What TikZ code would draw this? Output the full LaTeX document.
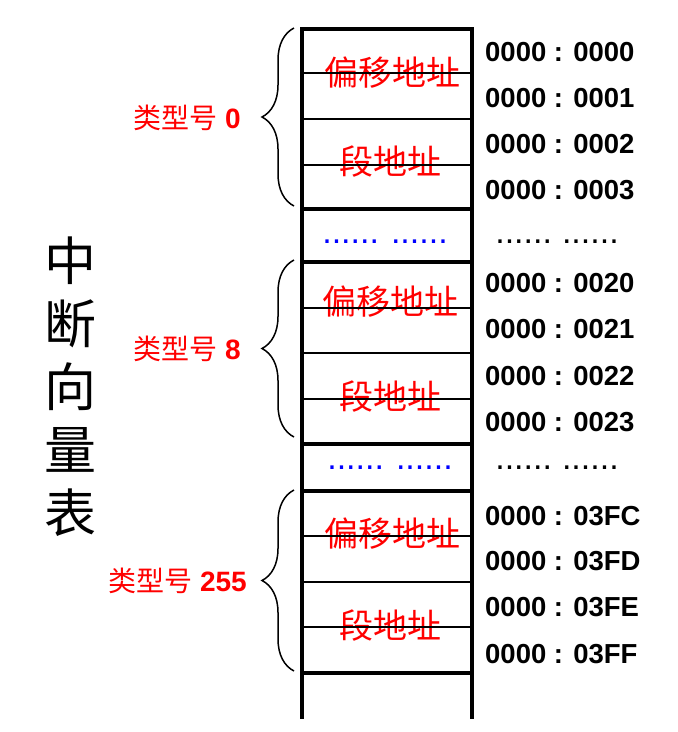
\documentclass[tikz,border=0pt]{standalone}
\usepackage{fontspec}
\setmainfont{Liberation Sans}
\newfontfamily\cjk{Noto Sans CJK SC}
\usetikzlibrary{positioning,decorations.pathreplacing}
\tikzstyle{field} = [font=\cjk\fontsize{34}{34}\selectfont, text=red, inner sep=0pt]
\tikzstyle{addr} = [font=\bfseries\fontsize{27.5}{27.5}\selectfont, anchor=west, inner sep=0pt]
\tikzstyle{typelbl} = [font=\fontsize{28}{28}\selectfont, text=red, anchor=east, inner sep=0pt]
\tikzstyle{ellip} = [font=\fontsize{34}{34}\selectfont, inner sep=0pt]
\tikzstyle{thinline} = [line width=1.6pt]
\tikzstyle{thickline} = [line width=3.6pt]
\tikzstyle{bracket} = [line width=1.5pt, decorate,
    decoration={brace, amplitude=32pt, aspect=0.5}]

\begin{document}
\begin{tikzpicture}[x=1pt, y=-1pt]
  \useasboundingbox (0,0) rectangle (678,732);
  % title
  \node [font=\cjk\fontsize{52}{52}\selectfont, align=center, inner sep=0pt] (title) at (70,387)
    {中\\[11pt]断\\[11pt]向\\[11pt]量\\[11pt]表};
  % fields of the three entries
  \node [field] (off0) at (392,73) {偏移地址};
  \node [field] (seg0) at (390,162) {段地址};
  \node [field] (off8) at (390,302) {偏移地址};
  \node [field] (seg8) at (390,397) {段地址};
  \node [field] (off255) at (392,534) {偏移地址};
  \node [field] (seg255) at (390,626) {段地址};
  \node [ellip, text=blue, anchor=base] (gap1) at (385,243) {......\hspace{12pt}......};
  \node [ellip, text=blue, anchor=base] (gap2) at (390,469) {......\hspace{12pt}......};
  % table
  \draw [thickline] (302,29) -- (302,719);
  \draw [thickline] (472,29) -- (472,719);
  \foreach \y in {29,209,262,444,491,673}
    \draw [thickline] (300.2,\y) -- (473.8,\y);
  \foreach \y in {73,119,165,308,353,399,536,582,627}
    \draw [thinline] (302,\y) -- (472,\y);
  % addresses
  \node [addr] (a0) at (485,52) {0000 : 0000};
  \node [addr] (a1) at (485,98) {0000 : 0001};
  \node [addr] (a2) at (485,144) {0000 : 0002};
  \node [addr] (a3) at (485,190) {0000 : 0003};
  \node [ellip, anchor=base] (agap1) at (557,243) {......\hspace{10pt}......};
  \node [addr] (a20) at (485,283) {0000 : 0020};
  \node [addr] (a21) at (485,329) {0000 : 0021};
  \node [addr] (a22) at (485,376) {0000 : 0022};
  \node [addr] (a23) at (485,422) {0000 : 0023};
  \node [ellip, anchor=base] (agap2) at (557,469) {......\hspace{10pt}......};
  \node [addr] (a3fc) at (485,516) {0000 : 03FC};
  \node [addr] (a3fd) at (485,561) {0000 : 03FD};
  \node [addr] (a3fe) at (485,607) {0000 : 03FE};
  \node [addr] (a3ff) at (485,654) {0000 : 03FF};
  % braces and type numbers
  \draw [bracket] (294,206) -- (294,28);
  \draw [bracket] (294,437) -- (294,260);
  \draw [bracket] (294,671) -- (294,490);
  \node [typelbl] (t0) at (241,118) {{\cjk 类型号} \textbf{0}};
  \node [typelbl] (t8) at (241,349) {{\cjk 类型号} \textbf{8}};
  \node [typelbl] (t255) at (247,581) {{\cjk 类型号} \textbf{255}};
\end{tikzpicture}
\end{document}
